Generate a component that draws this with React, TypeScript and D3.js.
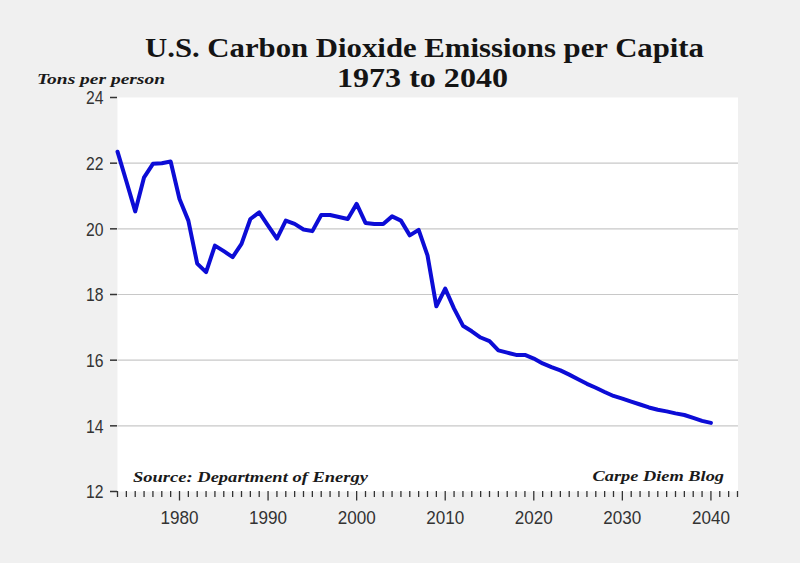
import React from "react";
import * as d3 from "d3";

const years: number[] = d3.range(1973, 2041);
const emissions: number[] = [
  22.35, 21.45, 20.53, 21.57, 21.98, 22.0, 22.05, 20.91, 20.25, 18.94,
  18.68, 19.49, 19.32, 19.14, 19.54, 20.3, 20.5, 20.1, 19.7, 20.25,
  20.15, 19.98, 19.93, 20.42, 20.42, 20.36, 20.3, 20.76, 20.18, 20.15,
  20.15, 20.38, 20.25, 19.8, 19.97, 19.19, 17.64, 18.18, 17.57, 17.05,
  16.88, 16.69, 16.58, 16.3, 16.23, 16.16, 16.16, 16.05, 15.9, 15.79,
  15.69, 15.56, 15.42, 15.28, 15.16, 15.03, 14.91, 14.83, 14.74, 14.65,
  14.56, 14.49, 14.44, 14.38, 14.33, 14.24, 14.15, 14.09,
];
const yTicks: number[] = [12, 14, 16, 18, 20, 22, 24];
const xMajorTicks: number[] = [1980, 1990, 2000, 2010, 2020, 2030, 2040];
const xMinorTicks: number[] = d3.range(1973, 2044);

const titleLine1 = "U.S. Carbon Dioxide Emissions per Capita";
const titleLine2 = "1973 to 2040";
const yUnitLabel = "Tons per person";
const sourceLabel = "Source: Department of Energy";
const blogLabel = "Carpe Diem Blog";

export default function App() {
  const W = 800;
  const H = 563;
  const left = 117.5;
  const right = 738;
  const top = 97.5;
  const bottom = 491.5;

  const x = d3.scaleLinear().domain([1973, 2043]).range([left, 737.5]);
  const y = d3.scaleLinear().domain([12, 24]).range([bottom, top]);

  const line = d3
    .line<number>()
    .x((_, i) => x(years[i]))
    .y((d) => y(d));

  const serif = "'Liberation Serif', 'Times New Roman', serif";
  const sans = "'Liberation Sans', Arial, sans-serif";

  return (
    <div style={{ position: "absolute", left: 0, top: 0 }}>
      <svg width={W} height={H} style={{ display: "block" }}>
        <rect x={0} y={0} width={W} height={H} fill="#f0f0f0" />
        <rect x={left} y={top} width={right - left} height={bottom - top} fill="#ffffff" />

        {yTicks
          .filter((t) => t > 12 && t < 24)
          .map((t) => (
            <line key={"g" + t} x1={left} x2={right} y1={y(t)} y2={y(t)} stroke="#c8c8c8" strokeWidth={1.2} />
          ))}

        {/* Title */}
        <text x={424.5} y={57} textAnchor="middle" fontFamily={serif} fontWeight="bold" fontSize={28}
          fill="#141414" textLength={559} lengthAdjust="spacingAndGlyphs">
          {titleLine1}
        </text>
        <text x={422.5} y={87} textAnchor="middle" fontFamily={serif} fontWeight="bold" fontSize={28}
          fill="#141414" textLength={171} lengthAdjust="spacingAndGlyphs">
          {titleLine2}
        </text>
        <text x={37} y={84} fontFamily={serif} fontWeight="bold" fontStyle="italic" fontSize={14.5}
          fill="#1a1a1a" textLength={128} lengthAdjust="spacingAndGlyphs">
          {yUnitLabel}
        </text>

        {/* Y axis ticks and labels */}
        {yTicks.map((t) => (
          <g key={"y" + t}>
            <line x1={110} x2={117} y1={y(t)} y2={y(t)} stroke="#333" strokeWidth={1.5} />
            <text x={103.5} y={y(t)} dy="0.36em" textAnchor="end" fontFamily={sans} fontSize={19}
              fill="#333" textLength={17.5} lengthAdjust="spacingAndGlyphs">
              {t}
            </text>
          </g>
        ))}

        {/* X axis ticks */}
        {xMinorTicks.map((t) => {
          const major = t % 10 === 0;
          return (
            <line key={"x" + t} x1={x(t)} x2={x(t)} y1={bottom - 0.5} y2={bottom + (major ? 9 : 5.5)}
              stroke="#333" strokeWidth={1.3} />
          );
        })}
        {xMajorTicks.map((t) => (
          <text key={"xl" + t} x={x(t)} y={523.5} textAnchor="middle" fontFamily={sans} fontSize={19}
            fill="#333" textLength={38} lengthAdjust="spacingAndGlyphs">
            {t}
          </text>
        ))}

        {/* Data line */}
        <path d={line(emissions) || ""} fill="none" stroke="#0c0cd6" strokeWidth={4}
          strokeLinejoin="round" strokeLinecap="round" />

        {/* Footnotes */}
        <text x={133} y={481.5} fontFamily={serif} fontWeight="bold" fontStyle="italic" fontSize={14.5}
          fill="#1a1a1a" textLength={235} lengthAdjust="spacingAndGlyphs">
          {sourceLabel}
        </text>
        <text x={592.5} y={480.5} fontFamily={serif} fontWeight="bold" fontStyle="italic" fontSize={14.5}
          fill="#1a1a1a" textLength={131.5} lengthAdjust="spacingAndGlyphs">
          {blogLabel}
        </text>
      </svg>
    </div>
  );
}
